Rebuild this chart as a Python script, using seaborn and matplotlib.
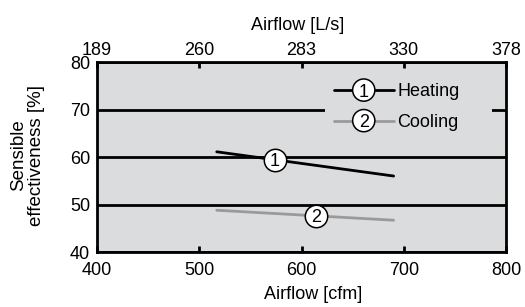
import matplotlib
matplotlib.use("Agg")
import numpy as np
import pandas as pd
import matplotlib.pyplot as plt
import matplotlib.text as mtext
from matplotlib.lines import Line2D
from matplotlib.patches import Circle
from matplotlib.legend_handler import HandlerLine2D
import seaborn as sns

# ---------------- Data ----------------
cfm_ticks = [400, 500, 600, 700, 800]
ls_labels = ["189", "260", "283", "330", "378"]
y_ticks = [40, 50, 60, 70, 80]

heating_cfm = [517, 690]
heating_eff = [61.1, 56.0]
cooling_cfm = [517, 690]
cooling_eff = [48.8, 46.7]

series_names = ["Heating", "Cooling"]
series_tags = ["1", "2"]
tag_cfm = [574, 614]   # where the circled number sits on each curve

# ---------------- Style ----------------
sns.set_style("ticks")
plt.rcParams["font.family"] = ["Liberation Sans", "DejaVu Sans"]
plt.rcParams.update({"text.color": "black", "axes.labelcolor": "black",
                     "xtick.color": "black", "ytick.color": "black"})
FS = 13
BG = "#dbdcde"
GRAY = "#9a9a9a"
colors = ["black", GRAY]

df = pd.concat([
    pd.DataFrame({"cfm": heating_cfm, "eff": heating_eff, "series": "Heating"}),
    pd.DataFrame({"cfm": cooling_cfm, "eff": cooling_eff, "series": "Cooling"}),
])

fig = plt.figure(figsize=(5.25, 3.07), dpi=100)
ax = fig.add_axes([0.185, 0.179, 0.779, 0.619])
ax.set_facecolor(BG)

sns.lineplot(data=df, x="cfm", y="eff", hue="series", palette=colors,
             hue_order=series_names, lw=2, legend=False, ax=ax, zorder=3)

# circled numbers on the curves
for name, tag, xc in zip(series_names, series_tags, tag_cfm):
    sub = df[df["series"] == name]
    yc = np.interp(xc, sub["cfm"], sub["eff"])
    ax.scatter([xc], [yc], s=260, facecolor="white", edgecolor="black",
               linewidth=1.1, zorder=4)
    ax.text(xc, yc, tag, ha="center", va="center_baseline", fontsize=FS, zorder=5)

ax.set_xlim(400, 800)
ax.set_ylim(40, 80)
ax.set_xticks(cfm_ticks)
ax.set_yticks(y_ticks)
ax.yaxis.grid(True, color="black", lw=2)
ax.set_axisbelow(True)
for s in ax.spines.values():
    s.set_linewidth(2)
    s.set_color("black")
ax.tick_params(axis="x", direction="in", length=4, width=2, labelsize=FS, pad=7)
ax.tick_params(axis="y", length=0, labelsize=FS, pad=5)
ax.set_xlabel("Airflow [cfm]", fontsize=FS, labelpad=5)
ax.xaxis.label.set_x(0.528)
ax.set_ylabel("Sensible\neffectiveness [%]", fontsize=13.5, linespacing=1.1)
ax.yaxis.set_label_coords(-0.127, 0.51)

# top axis in L/s
top = ax.twiny()
top.set_xlim(ax.get_xlim())
top.set_xticks(cfm_ticks, labels=ls_labels)
top.tick_params(axis="x", direction="in", length=4, width=2, labelsize=FS, pad=2.5)
for s in top.spines.values():
    s.set_visible(False)
top.set_xlabel("Airflow [L/s]", fontsize=FS, labelpad=8)
top.xaxis.label.set_x(0.49)


# ---------------- Legend with circled numbers ----------------
class CircledHandler(HandlerLine2D):
    def __init__(self, tag, **kw):
        super().__init__(**kw)
        self.tag = tag

    def create_artists(self, legend, orig_handle, xdescent, ydescent,
                       width, height, fontsize, trans):
        arts = super().create_artists(legend, orig_handle, xdescent, ydescent,
                                      width, height, fontsize, trans)
        cx = -xdescent + width / 2
        cy = (height - ydescent) / 2
        circ = Circle((cx, cy), 8, facecolor="white", edgecolor="black",
                      linewidth=1.1, transform=trans)
        txt = mtext.Text(cx, cy, self.tag, ha="center", va="center_baseline",
                         fontsize=FS, transform=trans)
        return list(arts) + [circ, txt]


handles = [Line2D([], [], color=c, lw=2) for c in colors]
hmap = {h: CircledHandler(t) for h, t in zip(handles, series_tags)}
leg = ax.legend(handles, series_names, handler_map=hmap, loc="upper left",
                bbox_to_anchor=(0.557, 0.5, 0.408, 0.435), mode="expand",
                borderaxespad=0, fontsize=FS, handlelength=3.3,
                handletextpad=0.2, labelspacing=0.75, borderpad=0.5,
                frameon=True, facecolor=BG, edgecolor="none", framealpha=1,
                fancybox=False)
leg.set_zorder(6)

fig.savefig("out.png", dpi=100)
